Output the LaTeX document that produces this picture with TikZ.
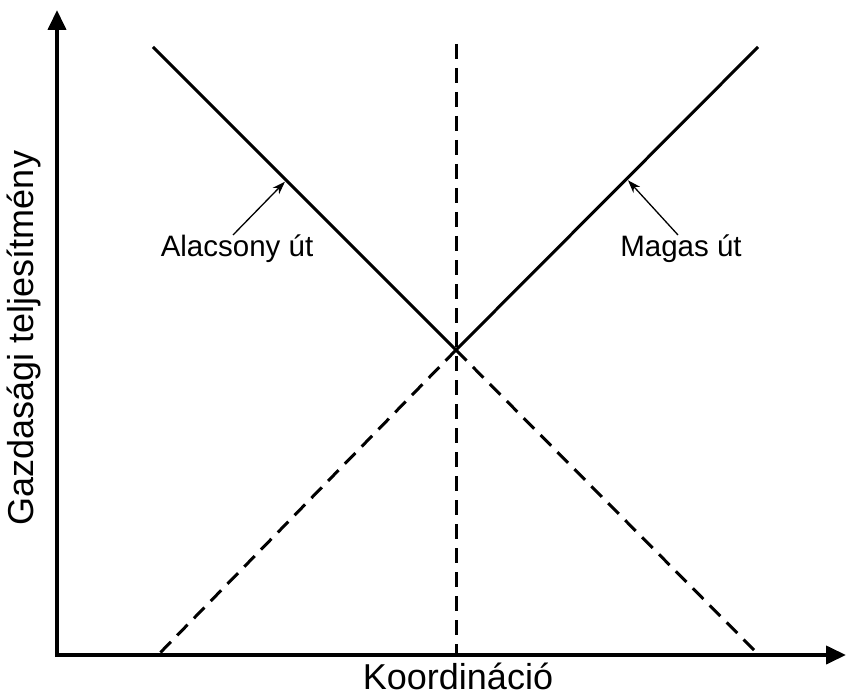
\documentclass[tikz,border=0pt]{standalone}
\usepackage{fontspec}
\setmainfont{Liberation Sans}
\usetikzlibrary{arrows.meta,positioning}

\begin{document}
\begin{tikzpicture}[
    x=1pt, y=-1pt,
    font=\fontsize{29.5}{34}\selectfont,
    axis/.style={line width=4pt, -{Triangle[length=20pt, width=18pt]}},
    road/.style={line width=3pt},
    guide/.style={line width=3pt, dash pattern=on 15pt off 9pt},
    pointer/.style={line width=1.3pt, -{Stealth[length=13pt, width=9pt]}},
    tag/.style={inner sep=0pt},
    axistag/.style={inner sep=0pt, font=\fontsize{36}{40}\selectfont}
]

  \useasboundingbox (0,0) rectangle (846,695);

  % -------------------------------------------------------------
  % TENGELYEK
  % -------------------------------------------------------------
  \coordinate (origin) at (57,655);
  \coordinate (ytip) at (57,10);
  \coordinate (xtip) at (846,655);

  \draw[axis] ([yshift=-2pt]origin) -- (ytip);
  \draw[axis] ([xshift=-2pt]origin) -- (xtip);

  \node[axistag, anchor=base] (xlab) at (458,689) {Koordináció};
  \node[axistag, rotate=90] (ylab) at (24,338) {Gazdasági teljesítmény};

  % -------------------------------------------------------------
  % UTAK
  % -------------------------------------------------------------
  \coordinate (cross) at (456,350);
  \coordinate (lefttop) at (153,47);
  \coordinate (righttop) at (758,47);
  \coordinate (leftfoot) at (158,655);
  \coordinate (rightfoot) at (759,655);
  \coordinate (vtop) at (456,44);
  \coordinate (vfoot) at (456,655);

  \draw[road] (lefttop) -- (cross) -- (righttop);
  \draw[guide] (cross) -- (leftfoot);
  \draw[guide] (cross) -- (rightfoot);
  \draw[guide] (vtop) -- (vfoot);

  % Feliratok
  \path (lefttop) -- (cross) coordinate[pos=0.44] (lowhit);
  \path (cross) -- (righttop) coordinate[pos=0.565] (highhit);

  \node[tag, anchor=base] (low) at (237,256) {Alacsony út};
  \node[tag, anchor=base] (high) at (681,256) {Magas út};

  \draw[pointer, shorten >=2pt] ([xshift=-4pt, yshift=21pt]low.base) -- (lowhit);
  \draw[pointer, shorten >=2pt] ([xshift=-3pt, yshift=21pt]high.base) -- (highhit);

\end{tikzpicture}
\end{document}
